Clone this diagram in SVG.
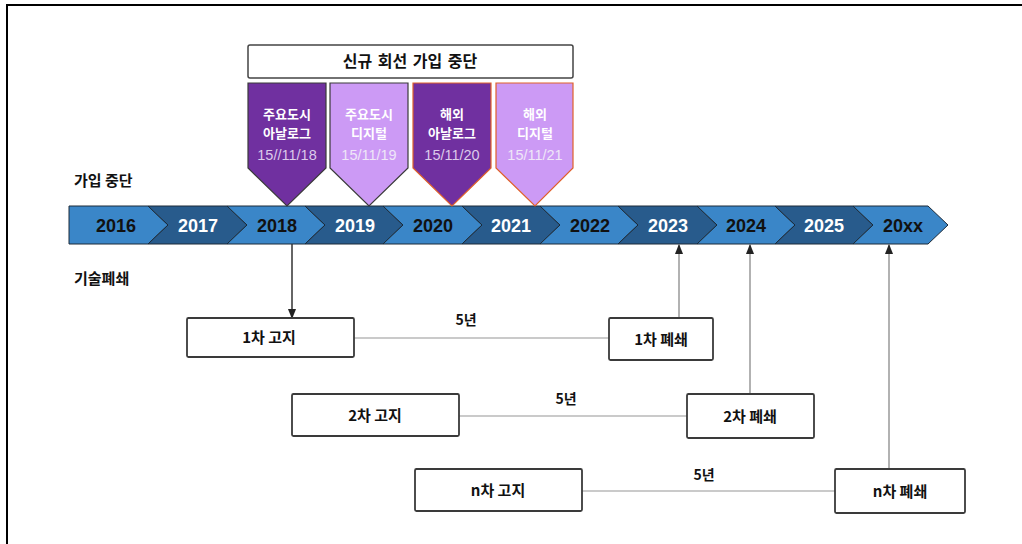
<svg xmlns="http://www.w3.org/2000/svg" width="1022" height="544" viewBox="0 0 1022 544">
<style>
.ko{font-family:"Noto Sans CJK KR","Noto Sans",sans-serif;font-weight:bold}
.yr{font-family:"Liberation Sans",Arial,sans-serif;font-weight:bold;font-size:18px;text-anchor:middle}
.lt{fill:#3a86c8;stroke:#1c2a38;stroke-width:1}
.dk{fill:#285b8c;stroke:#1c2a38;stroke-width:1}
.box{fill:#fff;stroke:#3a3a3a;stroke-width:1.8}
.pl{fill:#fff;font-size:13px;text-anchor:middle}
.dt{font-family:"Liberation Sans",Arial,sans-serif;font-size:14.5px;text-anchor:middle}
.bl{font-size:15px;text-anchor:middle;fill:#111}
.gl{stroke:#b8b8b8;stroke-width:1.5;fill:none}
</style>
<defs>
<marker id="ah" viewBox="0 0 10 10" refX="9" refY="5" markerWidth="7" markerHeight="7" orient="auto-start-reverse"><path d="M0,1 L10,5 L0,9 Z" fill="#222"/></marker>
</defs>
<rect x="0" y="0" width="1022" height="544" fill="#fff"/>
<path d="M7,544 L7,5 L1022,5" fill="none" stroke="#000" stroke-width="2"/>

<g id="timeline">
<path class="lt" d="M69,206 L148,206 L168,225 L148,244 L69,244 Z"/>
<path class="dk" d="M148,206 L227,206 L247,225 L227,244 L148,244 L168,225 Z"/>
<path class="lt" d="M227,206 L305,206 L325,225 L305,244 L227,244 L247,225 Z"/>
<path class="dk" d="M305,206 L383,206 L403,225 L383,244 L305,244 L325,225 Z"/>
<path class="lt" d="M383,206 L462,206 L482,225 L462,244 L383,244 L403,225 Z"/>
<path class="dk" d="M462,206 L540,206 L560,225 L540,244 L462,244 L482,225 Z"/>
<path class="lt" d="M540,206 L618,206 L638,225 L618,244 L540,244 L560,225 Z"/>
<path class="dk" d="M618,206 L697,206 L717,225 L697,244 L618,244 L638,225 Z"/>
<path class="lt" d="M697,206 L775,206 L795,225 L775,244 L697,244 L717,225 Z"/>
<path class="dk" d="M775,206 L853,206 L873,225 L853,244 L775,244 L795,225 Z"/>
<path class="lt" d="M853,206 L928,206 L948,225 L928,244 L853,244 L873,225 Z"/>
<text class="yr" x="116" y="231.5" fill="#111">2016</text>
<text class="yr" x="198" y="231.5" fill="#fff">2017</text>
<text class="yr" x="277" y="231.5" fill="#111">2018</text>
<text class="yr" x="355" y="231.5" fill="#fff">2019</text>
<text class="yr" x="433" y="231.5" fill="#111">2020</text>
<text class="yr" x="511" y="231.5" fill="#fff">2021</text>
<text class="yr" x="590" y="231.5" fill="#111">2022</text>
<text class="yr" x="668" y="231.5" fill="#fff">2023</text>
<text class="yr" x="746" y="231.5" fill="#111">2024</text>
<text class="yr" x="824" y="231.5" fill="#fff">2025</text>
<text class="yr" x="903" y="231.5" fill="#111">20xx</text>
</g>

<g id="label-join"><text class="ko" x="74" y="186" font-size="15" fill="#111">가입 중단</text></g>
<g id="label-tech"><text class="ko" x="74" y="284" font-size="15" fill="#111">기술폐쇄</text></g>

<g id="banner">
<rect x="248" y="45" width="325" height="33" rx="2" fill="#fff" stroke="#444" stroke-width="1.5"/>
<text class="ko" x="410" y="67" font-size="16" text-anchor="middle" fill="#111" word-spacing="2">신규 회선 가입 중단</text>
</g>

<g id="p1">
<path d="M248,83 L326,83 L326,168 L287,206 L248,168 Z" fill="#7030a0" stroke="#3a3a3a" stroke-width="1.2"/>
<text class="ko pl" x="287" y="119">주요도시</text>
<text class="ko pl" x="287" y="138">아날로그</text>
<text class="dt" x="287" y="160" fill="#dccbeb">15//11/18</text>
</g>
<g id="p2">
<path d="M330,83 L408,83 L408,168 L369,206 L330,168 Z" fill="#cc9af5" stroke="#3a3a3a" stroke-width="1.2"/>
<text class="ko pl" x="369" y="119">주요도시</text>
<text class="ko pl" x="369" y="138">디지털</text>
<text class="dt" x="369" y="160" fill="#efe6f8">15/11/19</text>
</g>
<g id="p3">
<path d="M413,83 L491,83 L491,168 L452,206 L413,168 Z" fill="#7030a0" stroke="#e0602a" stroke-width="1.2"/>
<text class="ko pl" x="452" y="119">해외</text>
<text class="ko pl" x="452" y="138">아날로그</text>
<text class="dt" x="452" y="160" fill="#dccbeb">15/11/20</text>
</g>
<g id="p4">
<path d="M496,83 L573,83 L573,168 L535,206 L496,168 Z" fill="#cc9af5" stroke="#e0602a" stroke-width="1.2"/>
<text class="ko pl" x="535" y="119">해외</text>
<text class="ko pl" x="535" y="138">디지털</text>
<text class="dt" x="535" y="160" fill="#efe6f8">15/11/21</text>
</g>

<g id="connectors">
<line x1="292" y1="244" x2="292" y2="318" stroke="#333" stroke-width="1.5" marker-end="url(#ah)"/>
<line x1="679" y1="318" x2="679" y2="245" stroke="#999" stroke-width="1.5" marker-end="url(#ah)"/>
<line x1="750" y1="394" x2="750" y2="245" stroke="#999" stroke-width="1.5" marker-end="url(#ah)"/>
<line x1="889" y1="468" x2="889" y2="245" stroke="#999" stroke-width="1.5" marker-end="url(#ah)"/>
<line class="gl" x1="354" y1="338" x2="609" y2="338"/>
<line class="gl" x1="459" y1="416" x2="687" y2="416"/>
<line class="gl" x1="582" y1="491" x2="835" y2="491"/>
<text class="ko" x="466" y="325" font-size="14" text-anchor="middle" fill="#111">5년</text>
<text class="ko" x="566" y="404" font-size="14" text-anchor="middle" fill="#111">5년</text>
<text class="ko" x="704" y="480" font-size="14" text-anchor="middle" fill="#111">5년</text>
</g>

<g id="n1a"><rect class="box" x="187" y="318" width="167" height="39" rx="1.5"/><text class="ko bl" x="269" y="343">1차 고지</text></g>
<g id="n1b"><rect class="box" x="609" y="318" width="104" height="42" rx="1.5"/><text class="ko bl" x="661" y="345">1차 폐쇄</text></g>
<g id="n2a"><rect class="box" x="292" y="394" width="167" height="42" rx="1.5"/><text class="ko bl" x="375" y="421">2차 고지</text></g>
<g id="n2b"><rect class="box" x="687" y="394" width="127" height="44" rx="1.5"/><text class="ko bl" x="750" y="422">2차 폐쇄</text></g>
<g id="n3a"><rect class="box" x="415" y="469" width="167" height="42" rx="1.5"/><text class="ko bl" x="498" y="496">n차 고지</text></g>
<g id="n3b"><rect class="box" x="835" y="469" width="130" height="44" rx="1.5"/><text class="ko bl" x="900" y="497">n차 폐쇄</text></g>
</svg>
